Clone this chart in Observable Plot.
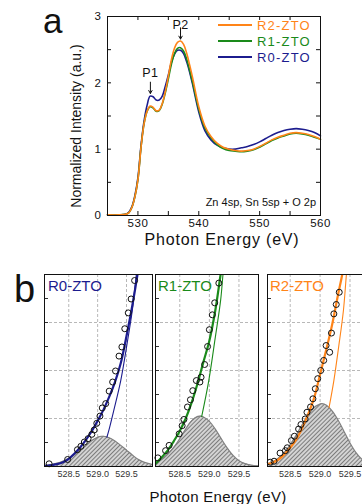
<!DOCTYPE html>
<html><head><meta charset="utf-8">
<script src="https://cdn.jsdelivr.net/npm/d3@7"></script>
<script src="https://cdn.jsdelivr.net/npm/@observablehq/plot@0.6"></script>
<style>
html,body{margin:0;padding:0;background:#fff;}
#fig{position:relative;width:362px;height:504px;overflow:hidden;font-family:"Liberation Sans",Arial,sans-serif;color:#111;background:#fff;}
.abs{position:absolute;white-space:nowrap;line-height:1;}
.plot{position:absolute;}
</style></head><body><div id="fig"></div>
<script>
// ---------- Panel a data ----------
const energyA = [525, 527, 528, 528.5, 529, 529.5, 530, 530.5, 531, 531.5, 532, 532.5, 533, 533.5, 534, 534.5, 535, 535.5, 536, 536.5, 537, 537.5, 538, 538.5, 539, 540, 541, 542, 543, 544, 545, 546, 547, 548, 549, 550, 551, 552, 553, 554, 555, 556, 557, 558, 559, 560];
const r0 = [0.01, 0.01, 0.02, 0.05, 0.13, 0.30, 0.57, 1.05, 1.42, 1.66, 1.80, 1.79, 1.74, 1.74, 1.80, 1.95, 2.12, 2.31, 2.43, 2.49, 2.49, 2.44, 2.32, 2.16, 1.97, 1.56, 1.28, 1.14, 1.06, 1.02, 1.00, 1.00, 1.02, 1.04, 1.07, 1.11, 1.16, 1.21, 1.25, 1.28, 1.30, 1.31, 1.30, 1.28, 1.25, 1.20];
const r1 = [0.01, 0.01, 0.02, 0.04, 0.12, 0.28, 0.54, 1.02, 1.38, 1.57, 1.64, 1.62, 1.57, 1.58, 1.68, 1.85, 2.06, 2.28, 2.44, 2.52, 2.53, 2.48, 2.36, 2.19, 2.00, 1.60, 1.32, 1.17, 1.07, 1.01, 0.98, 0.97, 0.96, 0.97, 0.99, 1.03, 1.08, 1.13, 1.17, 1.20, 1.23, 1.24, 1.23, 1.21, 1.18, 1.15];
const r2 = [0.01, 0.01, 0.02, 0.04, 0.12, 0.28, 0.54, 1.02, 1.38, 1.57, 1.65, 1.63, 1.58, 1.59, 1.69, 1.87, 2.10, 2.35, 2.52, 2.61, 2.63, 2.58, 2.45, 2.27, 2.07, 1.64, 1.35, 1.19, 1.09, 1.03, 1.00, 0.98, 0.97, 0.98, 1.00, 1.04, 1.09, 1.14, 1.18, 1.21, 1.24, 1.25, 1.24, 1.22, 1.19, 1.15];
const seriesNames = ["R2-ZTO", "R1-ZTO", "R0-ZTO"];
const seriesColors = ["#ff8418", "#1a8a1a", "#1c1c8e"];
const peakLabels = ["P1", "P2"];
const peakE = [532.05, 537.0];
const peakV = [1.81, 2.63];
const xTickLabelsA = [530, 540, 550, 560];
const xTickMarksA = [530, 535, 540, 545, 550, 555];
const yTickLabelsA = [0, 1, 2, 3];
const yTickMarksA = [0.5, 1, 1.5, 2, 2.5];

// ---------- Panel b data ----------
const xTicksB = [528.5, 529.0, 529.5];
const yGridB = [1, 2, 3];
const yTickMarksB = [0.5, 1, 1.5, 2, 2.5, 3, 3.5];
const subLabels = ["R0-ZTO", "R1-ZTO", "R2-ZTO"];

// R0
const b0GaussE = [528.08, 528.2, 528.3, 528.4, 528.5, 528.6, 528.7, 528.8, 528.9, 529.0, 529.08, 529.2, 529.3, 529.4, 529.5, 529.6, 529.7, 529.8, 529.95];
const b0GaussV = [0.02, 0.04, 0.07, 0.11, 0.17, 0.25, 0.34, 0.44, 0.54, 0.61, 0.63, 0.60, 0.53, 0.44, 0.34, 0.24, 0.15, 0.09, 0.04];
const b0FitE = [528.08, 528.2, 528.3, 528.4, 528.5, 528.6, 528.7, 528.8, 528.9, 529.0, 529.1, 529.2, 529.3, 529.4, 529.5, 529.6, 529.69, 529.75];
const b0FitV = [0.01, 0.03, 0.05, 0.09, 0.16, 0.27, 0.40, 0.56, 0.74, 0.95, 1.18, 1.45, 1.76, 2.15, 2.72, 3.35, 4.0, 4.5];
const b0ThinE = [529.16, 529.2, 529.28, 529.4, 529.51, 529.6, 529.67, 529.72];
const b0ThinV = [0.61, 0.78, 1.17, 1.79, 2.56, 3.25, 4.0, 4.5];
const b0PtsE = [528.16, 528.48, 528.65, 528.71, 528.77, 528.835, 528.90, 528.94, 528.985, 529.04, 529.08, 529.14, 529.20, 529.26, 529.31, 529.37, 529.42, 529.47, 529.53, 529.58, 529.64];
const b0PtsV = [0.056, 0.146, 0.35, 0.42, 0.51, 0.58, 0.67, 0.76, 0.90, 1.05, 1.22, 1.31, 1.57, 1.76, 1.99, 2.30, 2.49, 2.87, 3.20, 3.49, 3.875];

// R1
const b1GaussE = [528.09, 528.2, 528.3, 528.4, 528.5, 528.6, 528.7, 528.8, 528.85, 528.9, 529.0, 529.1, 529.2, 529.3, 529.4, 529.5, 529.6, 529.7, 529.83];
const b1GaussV = [0.08, 0.15, 0.26, 0.40, 0.58, 0.78, 0.95, 1.04, 1.05, 1.03, 0.94, 0.78, 0.58, 0.39, 0.23, 0.12, 0.06, 0.03, 0.01];
const b1FitE = [528.09, 528.2, 528.3, 528.4, 528.5, 528.6, 528.7, 528.8, 528.9, 529.0, 529.1, 529.19, 529.25];
const b1FitV = [0.06, 0.20, 0.34, 0.53, 0.74, 1.00, 1.33, 1.73, 2.18, 2.62, 3.25, 4.0, 4.5];
const b1ThinE = [528.87, 528.99, 529.1, 529.19, 529.23, 529.27];
const b1ThinV = [1.04, 1.79, 2.69, 3.46, 4.0, 4.5];
const b1PtsE = [528.13, 528.26, 528.32, 528.49, 528.54, 528.57, 528.63, 528.68, 528.72, 528.78, 528.84, 528.86, 528.92, 528.97, 529.00, 529.05, 529.09, 529.16];
const b1PtsV = [0.18, 0.33, 0.44, 0.68, 0.85, 0.98, 1.24, 1.39, 1.58, 1.79, 1.76, 1.86, 2.125, 2.50, 2.85, 3.16, 3.41, 3.82];

// R2
const b2GaussE = [528.12, 528.2, 528.3, 528.4, 528.5, 528.6, 528.7, 528.8, 528.9, 529.0, 529.03, 529.1, 529.2, 529.3, 529.4, 529.5, 529.6, 529.7, 529.8, 529.9, 530.0];
const b2GaussV = [0.06, 0.09, 0.17, 0.29, 0.45, 0.65, 0.87, 1.07, 1.23, 1.30, 1.31, 1.28, 1.16, 0.97, 0.73, 0.49, 0.29, 0.15, 0.07, 0.03, 0.01];
const b2FitE = [528.12, 528.2, 528.3, 528.4, 528.5, 528.6, 528.7, 528.8, 528.9, 529.0, 529.1, 529.2, 529.3, 529.37, 529.42];
const b2FitV = [0.05, 0.08, 0.14, 0.25, 0.39, 0.56, 0.80, 1.09, 1.43, 1.92, 2.42, 2.95, 3.58, 4.0, 4.4];
const b2ThinE = [529.15, 529.23, 529.31, 529.39, 529.44, 529.48];
const b2ThinV = [1.23, 1.79, 2.49, 3.25, 4.0, 4.5];
const b2PtsE = [528.165, 528.23, 528.33, 528.42, 528.45, 528.52, 528.57, 528.64, 528.68, 528.75, 528.78, 528.84, 528.88, 528.92, 528.96, 529.01, 529.06, 529.10, 529.16, 529.19, 529.23, 529.27, 529.32];
const b2PtsV = [0.09, 0.11, 0.28, 0.33, 0.39, 0.54, 0.63, 0.78, 0.875, 0.99, 1.13, 1.24, 1.41, 1.62, 1.83, 2.0, 2.21, 2.52, 2.38, 2.78, 3.18, 3.375, 3.63];

// ---------- helpers ----------
const fig = document.getElementById("fig");
const FONT = '"Liberation Sans", Arial, sans-serif';
const zip = (xs, ys) => xs.map((x, i) => ({x, y: ys[i]}));
function place(el, left, top) {
  el.classList.add("plot");
  el.style.left = left + "px";
  el.style.top = top + "px";
  fig.appendChild(el);
}
function text(str, css) {
  const d = document.createElement("div");
  d.className = "abs";
  d.textContent = str;
  Object.assign(d.style, css);
  fig.appendChild(d);
  return d;
}
function addHatch(svg, id) {
  const ns = "http://www.w3.org/2000/svg";
  const defs = document.createElementNS(ns, "defs");
  defs.innerHTML = `<pattern id="${id}" patternUnits="userSpaceOnUse" width="3" height="3" patternTransform="rotate(45)"><rect width="3" height="3" fill="#d4d4d4"/><line x1="0.5" y1="0" x2="0.5" y2="3" stroke="#7c7c7c" stroke-width="1"/></pattern>`;
  svg.insertBefore(defs, svg.firstChild);
}

// ---------- Panel a ----------
{
  const W = 362, H = 250, mL = 107, mR = 42, mT = 16, mB = 35;
  const pw = W - mL - mR, ph = H - mT - mB;
  const dataR0 = zip(energyA, r0), dataR1 = zip(energyA, r1), dataR2 = zip(energyA, r2);
  const peaks = peakLabels.map((l, i) => ({l, x: peakE[i], y: peakV[i]}));
  const svg = Plot.plot({
    width: W, height: H, marginLeft: mL, marginRight: mR, marginTop: mT, marginBottom: mB,
    x: {domain: [525, 560], label: null},
    y: {domain: [0, 3], label: null},
    style: {fontFamily: FONT, fontSize: "11.5px", color: "#111", background: "transparent", overflow: "visible"},
    marks: [
      Plot.line(dataR0, {x: "x", y: "y", stroke: seriesColors[2], strokeWidth: 1.6, curve: "catmull-rom"}),
      Plot.line(dataR1, {x: "x", y: "y", stroke: seriesColors[1], strokeWidth: 1.6, curve: "catmull-rom"}),
      Plot.line(dataR2, {x: "x", y: "y", stroke: seriesColors[0], strokeWidth: 1.6, curve: "catmull-rom"}),
      Plot.tickX(xTickMarksA, {x: d => d, insetTop: ph - 4, stroke: "#111"}),
      Plot.tickX(xTickMarksA, {x: d => d, insetBottom: ph - 4, stroke: "#111"}),
      Plot.tickY(yTickMarksA, {y: d => d, insetRight: pw - 4, stroke: "#111"}),
      Plot.tickY(yTickMarksA, {y: d => d, insetLeft: pw - 4, stroke: "#111"}),
      Plot.axisX(xTickLabelsA, {tickSize: 0, tickPadding: 3, fontSize: 11.5, label: null, tickFormat: d3.format("d")}),
      Plot.axisY(yTickLabelsA, {tickSize: 0, tickPadding: 6, fontSize: 11.5, label: null, tickFormat: d3.format("d")}),
      Plot.arrow(peaks, {x1: "x", x2: "x", y1: d => d.y + 0.2, y2: "y", insetEnd: 2, stroke: "#111", strokeWidth: 1, headLength: 5}),
      Plot.text(peaks.slice(0, 1), {x: "x", y: "y", text: "l", dy: -22, fontSize: 12.5, fill: "#111"}),
      Plot.text(peaks.slice(1), {x: "x", y: "y", text: "l", dy: -16, fontSize: 12.5, fill: "#111"}),
      Plot.frame({stroke: "#111"})
    ]
  });
  svg.style.letterSpacing = "0.5px";
  place(svg, 0, 0);

  // legend
  const legY = [25, 41, 57];
  seriesNames.forEach((n, i) => {
    const ln = document.createElement("div");
    ln.className = "abs";
    Object.assign(ln.style, {left: "218px", top: (legY[i] - 1) + "px", width: "34px", height: "0", borderTop: "2px solid " + seriesColors[i]});
    fig.appendChild(ln);
    text(n, {left: "257px", top: (legY[i] - 6.5) + "px", fontSize: "13px", letterSpacing: "1.2px", color: seriesColors[i]});
  });
  text("Zn 4sp, Sn 5sp + O 2p", {right: "46px", top: "196.5px", fontSize: "11px", color: "#111"});
  text("a", {left: "43px", top: "3px", fontSize: "35px", color: "#111"});
  text("Photon Energy (eV)", {left: "222px", top: "231.5px", fontSize: "16px", letterSpacing: "0.8px", transform: "translateX(-50%)"});
  text("Normalized Intensity (a.u.)", {left: "75.5px", top: "126px", fontSize: "14px", transform: "translate(-50%,-50%) rotate(-90deg)"});
}

// ---------- Panel b ----------
const subs = [
  {left: 42, width: 112, domain: [528.08, 529.95], gE: b0GaussE, gV: b0GaussV, fE: b0FitE, fV: b0FitV, tE: b0ThinE, tV: b0ThinV, pE: b0PtsE, pV: b0PtsV, color: seriesColors[2], labelLeft: 48},
  {left: 153, width: 107, domain: [528.09, 529.83], gE: b1GaussE, gV: b1GaussV, fE: b1FitE, fV: b1FitV, tE: b1ThinE, tV: b1ThinV, pE: b1PtsE, pV: b1PtsV, color: seriesColors[1], labelLeft: 158},
  {left: 265, width: 114, domain: [528.12, 529.96], gE: b2GaussE, gV: b2GaussV, fE: b2FitE, fV: b2FitV, tE: b2ThinE, tV: b2ThinV, pE: b2PtsE, pV: b2PtsV, color: seriesColors[0], labelLeft: 270}
];
subs.forEach((s, k) => {
  const id = "hatch" + k;
  const pw = s.width - 4;
  const svg = Plot.plot({
    width: s.width, height: 210, marginLeft: 2, marginRight: 2, marginTop: 2, marginBottom: 16,
    x: {domain: s.domain, label: null},
    y: {domain: [0, 4], axis: null, label: null},
    style: {fontFamily: FONT, fontSize: "9px", color: "#333", background: "transparent", overflow: "visible"},
    marks: [
      Plot.gridX(xTicksB, {stroke: "#b8b8b8", strokeOpacity: 1, strokeDasharray: "3,2"}),
      Plot.gridY(yGridB, {stroke: "#b8b8b8", strokeOpacity: 1, strokeDasharray: "3,2"}),
      Plot.areaY(zip(s.gE, s.gV), {x: "x", y: "y", fill: `url(#${id})`, curve: "catmull-rom", clip: true}),
      Plot.line(zip(s.gE, s.gV), {x: "x", y: "y", stroke: "#808080", strokeWidth: 1.2, curve: "catmull-rom", clip: true}),
      Plot.line(zip(s.tE, s.tV), {x: "x", y: "y", stroke: s.color, strokeWidth: 1.1, curve: "catmull-rom", clip: true}),
      Plot.line(zip(s.fE, s.fV), {x: "x", y: "y", stroke: s.color, strokeWidth: 2.2, curve: "catmull-rom", clip: true}),
      Plot.dot(zip(s.pE, s.pV), {x: "x", y: "y", r: 3, stroke: "#111", fill: "none", strokeWidth: 1}),
      Plot.tickY(yTickMarksB, {y: d => d, insetRight: pw - 4, stroke: "#333"}),
      Plot.axisX(xTicksB, {tickSize: 0, tickPadding: 4, tickFormat: d3.format(".1f"), fontSize: 9, label: null}),
      Plot.frame({stroke: "#111"})
    ]
  });
  addHatch(svg, id);
  place(svg, s.left, 272);
  text(subLabels[k], {left: s.labelLeft + "px", top: "278px", fontSize: "15px", color: s.color});
});
text("b", {left: "14px", top: "270px", fontSize: "38px", color: "#111"});
text("Photon Energy (eV)", {left: "218px", top: "488.5px", fontSize: "15px", letterSpacing: "0.3px", transform: "translateX(-50%)"});
</script></body></html>
